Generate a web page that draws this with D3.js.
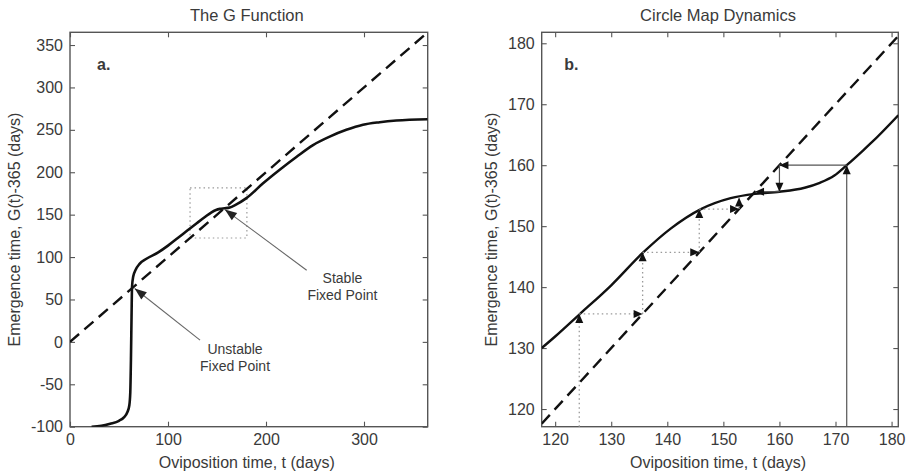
<!DOCTYPE html>
<html>
<head>
<meta charset="utf-8">
<script src="https://cdn.jsdelivr.net/npm/d3@7"></script>
<style>
  body { margin: 0; background: #fff; }
  text { font-family: "Liberation Sans", Arial, sans-serif; fill: #3a3a3a; }
</style>
</head>
<body>
<div id="wrapper"></div>
<script>
// G(t)-365, [t, value]
const gCurveA = [[22,-100],[32,-99],[41,-96.5],[50,-93],[55,-89],[58.5,-83],[60.5,-75],[61.5,-60],[62.2,-20],[62.8,30],[63.3,65],[64.5,77],[67,85],[71,92],[78,98],[90,105.5],[100,113.5],[110,122.5],[120,131.5],[130,140.5],[138,147.5],[144,152.5],[149,155.5],[153,156.8],[158,157.5],[163,158.5],[168,161],[180,169.5],[197,187],[214,203],[231,218],[248,232],[265,242],[282,250],[299,256],[316,259],[333,261],[365,262.5]];
// the same function, zoomed (panel b)
const gCurveB = [[117.6,130],[120,131.9],[124.3,135.5],[130,140.3],[135.6,145.6],[140.6,149.6],[146,152.8],[151.3,154.6],[155.6,155.3],[160,155.65],[164.5,156.3],[167.2,157.1],[169.8,158.3],[172,160],[174.9,162.4],[176.3,163.6],[181.2,168.2]];
const diagA = [[0,0],[365,365]];
const diagB = [[117.6,117.6],[181.2,181.2]];

// cobweb iterations: start time and successive G values
const dottedStart = 124.3;
const dottedG = [135.6, 145.7, 152.8, 154.7];
const solidStart = 172;
const solidG = [160, 155.65];

// zoom box drawn in panel a [t0, t1, v0, v1]
const zoomBox = [122.5, 180.5, 122.5, 181.5];

const xTicksA = [0, 100, 200, 300];
const yTicksA = [-100, -50, 0, 50, 100, 150, 200, 250, 300, 350];
const xTicksB = [120, 130, 140, 150, 160, 170, 180];
const yTicksB = [120, 130, 140, 150, 160, 170, 180];

const titles = ["The G Function", "Circle Map Dynamics"];
const panelTags = ["a.", "b."];
const xLabel = "Oviposition time, t (days)";
const yLabel = "Emergence time, G(t)-365 (days)";

const width = 908, height = 475;
const plotTop = 32.3, plotBottom = 426.7;

const svg = d3.select("#wrapper").append("svg")
  .attr("width", width).attr("height", height);

const xA = d3.scaleLinear().domain([0, 365]).range([70, 427.7]);
const yA = d3.scaleLinear().domain([-100, 365]).range([plotBottom, plotTop]);
const xB = d3.scaleLinear().domain([117.6, 181.2]).range([541.7, 898.3]);
const yB = d3.scaleLinear().domain([117.1, 181.8]).range([plotBottom, plotTop]);

function arrowHead(g, x, y, ang, len, hw, col) {
  // tip at (x,y), pointing in direction ang
  const bx = x - len * Math.cos(ang), by = y - len * Math.sin(ang);
  const px = -Math.sin(ang) * hw, py = Math.cos(ang) * hw;
  g.append("path")
    .attr("d", `M${x},${y}L${bx + px},${by + py}L${bx - px},${by - py}Z`)
    .attr("fill", col || "#111");
}

function drawPanel(x, y, xt, yt, idx) {
  const g = svg.append("g");
  const [x0, x1] = x.range();
  const id = "clip" + idx;
  svg.append("clipPath").attr("id", id).append("rect")
    .attr("x", x0).attr("y", plotTop).attr("width", x1 - x0).attr("height", plotBottom - plotTop);

  const fmt = d => String(d);
  g.append("g").attr("transform", `translate(0,${plotBottom})`)
    .call(d3.axisBottom(x).tickValues(xt).tickFormat(fmt).tickSize(-5).tickPadding(7));
  g.append("g").attr("transform", `translate(${x0},0)`)
    .call(d3.axisLeft(y).tickValues(yt).tickFormat(fmt).tickSize(-5).tickPadding(7));
  g.append("g").attr("transform", `translate(0,${plotTop})`)
    .call(d3.axisTop(x).tickValues(xt).tickSize(-5).tickFormat(""));
  g.append("g").attr("transform", `translate(${x1},0)`)
    .call(d3.axisRight(y).tickValues(yt).tickSize(-5).tickFormat(""));
  g.selectAll(".domain").remove();
  g.selectAll(".tick line").attr("stroke", "#555").attr("stroke-width", 1.1);
  g.selectAll(".tick text").attr("font-size", 16).attr("fill", "#3a3a3a")
    .attr("font-family", '"Liberation Sans", Arial, sans-serif');

  g.append("rect").attr("x", x0).attr("y", plotTop)
    .attr("width", x1 - x0).attr("height", plotBottom - plotTop)
    .attr("fill", "none").attr("stroke", "#555").attr("stroke-width", 1.4);

  const cx = (x0 + x1) / 2;
  g.append("text").attr("x", cx - 2).attr("y", 21).attr("text-anchor", "middle")
    .attr("font-size", 16.5).text(titles[idx]);
  g.append("text").attr("x", cx - 2).attr("y", 468).attr("text-anchor", "middle")
    .attr("font-size", 16).text(xLabel);
  g.append("text")
    .attr("transform", `translate(${x0 - (idx ? 44.5 : 50)},${(plotTop + plotBottom) / 2}) rotate(-90)`)
    .attr("text-anchor", "middle").attr("font-size", 16).text(yLabel);
  g.append("text").attr("x", x0 + (idx ? 22.5 : 27)).attr("y", 70)
    .attr("font-size", 16).attr("font-weight", "bold").attr("fill", "#111")
    .text(panelTags[idx]);

  return g.append("g").attr("clip-path", `url(#${id})`);
}

// ---- panel a ----
const pa = drawPanel(xA, yA, xTicksA, yTicksA, 0);
const lineA = d3.line().x(d => xA(d[0])).y(d => yA(d[1]));

pa.append("rect")
  .attr("x", xA(zoomBox[0])).attr("y", yA(zoomBox[3]))
  .attr("width", xA(zoomBox[1]) - xA(zoomBox[0]))
  .attr("height", yA(zoomBox[2]) - yA(zoomBox[3]))
  .attr("fill", "none").attr("stroke", "#9a9a9a").attr("stroke-width", 1.2)
  .attr("stroke-dasharray", "1.5,3");

pa.append("path").datum(diagA).attr("d", lineA)
  .attr("fill", "none").attr("stroke", "#111").attr("stroke-width", 2.4)
  .attr("stroke-dasharray", "12,7");
pa.append("path").datum(gCurveA).attr("d", lineA.curve(d3.curveMonotoneX))
  .attr("fill", "none").attr("stroke", "#111").attr("stroke-width", 2.6);

// annotations (data coordinates)
const notes = [
  { from: [241.5, 84.5], to: [158, 156], text: ["Stable", "Fixed Point"], at: [278, 74.7] },
  { from: [132.7, 2], to: [66, 63], text: ["Unstable", "Fixed Point"], at: [168.4, -8.9] }
];
notes.forEach(n => {
  const fx = xA(n.from[0]), fy = yA(n.from[1]), tx = xA(n.to[0]), ty = yA(n.to[1]);
  svg.append("line").attr("x1", fx).attr("y1", fy).attr("x2", tx).attr("y2", ty)
    .attr("stroke", "#666").attr("stroke-width", 1.1);
  arrowHead(svg, tx, ty, Math.atan2(ty - fy, tx - fx), 12, 4.5, "#222");
  n.text.forEach((s, i) => {
    svg.append("text").attr("x", xA(n.at[0])).attr("y", yA(n.at[1]) + i * 16.7)
      .attr("dy", "0.35em").attr("text-anchor", "middle").attr("font-size", 14).text(s);
  });
});

// ---- panel b ----
const pb = drawPanel(xB, yB, xTicksB, yTicksB, 1);
const lineB = d3.line().x(d => xB(d[0])).y(d => yB(d[1]));

pb.append("path").datum(diagB).attr("d", lineB)
  .attr("fill", "none").attr("stroke", "#111").attr("stroke-width", 2.4)
  .attr("stroke-dasharray", "12,7");
pb.append("path").datum(gCurveB).attr("d", lineB.curve(d3.curveMonotoneX))
  .attr("fill", "none").attr("stroke", "#111").attr("stroke-width", 2.4);

function cobweb(start, gs, style) {
  // build the stair path: vertical to curve, horizontal to diagonal
  const pts = [[start, yB.domain()[0]]];
  let t = start;
  gs.forEach((v, i) => {
    pts.push([t, v]);
    if (i < gs.length - 1 || style.endH) { pts.push([v, v]); t = v; }
  });
  for (let i = 1; i < pts.length; i++) {
    const a = pts[i - 1], b = pts[i];
    const ax = xB(a[0]), ay = yB(a[1]), bx = xB(b[0]), by = yB(b[1]);
    svg.append("line").attr("x1", ax).attr("y1", ay).attr("x2", bx).attr("y2", by)
      .attr("stroke", style.color).attr("stroke-width", style.w)
      .attr("stroke-dasharray", style.dash);
    if (Math.hypot(bx - ax, by - ay) > 3)
      arrowHead(svg, bx, by, Math.atan2(by - ay, bx - ax), 9, 4, "#111");
  }
}
cobweb(dottedStart, dottedG, { color: "#999", w: 1.3, dash: "1.5,3", endH: false });
cobweb(solidStart, solidG, { color: "#555", w: 1.2, dash: null, endH: true });
</script>
</body>
</html>
